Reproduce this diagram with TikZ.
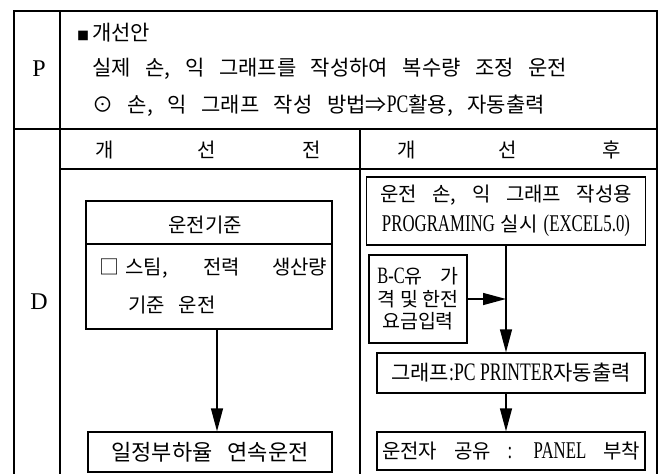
\documentclass[tikz,border=0pt]{standalone}
\usepackage{fontspec}
\setmainfont{Noto Sans CJK KR}[WordSpace=3.1]
\newfontfamily\lat{Liberation Serif}[FakeStretch=0.7,Scale=1.2]
\newfontfamily\latn{Liberation Serif}[Scale=1.2]
\usetikzlibrary{arrows.meta}
\begin{document}
\begin{tikzpicture}[x=1pt,y=-1pt,
  frame/.style={line width=1.4pt},
  box/.style={draw,line width=1.4pt,inner sep=0pt,align=center,font=\fontsize{20}{30}\selectfont},
  txt/.style={inner sep=0pt,font=\fontsize{20}{24}\selectfont},
  ptxt/.style={inner sep=0pt,font=\fontsize{21}{24}\selectfont},
  arr/.style={line width=1.4pt,-{Triangle[length=23pt,width=12pt]}}]
\useasboundingbox (0,0) rectangle (667,474);
% frame
\draw[frame] (14,478) -- (14,11) -- (657,11) -- (657,478);
\draw[frame] (60,11) -- (60,478);
\draw[frame] (14,129) -- (657,129);
\draw[frame] (60,169) -- (657,169);
\draw[frame] (360,129) -- (360,478);
% P row
\node[txt] (P) at (39,69) {\latn P};
\node[txt] (D) at (39,302) {\latn D};
\node[ptxt,anchor=west] (t1) at (77,33) {{\fontsize{12}{12}\selectfont ■}\hspace{3pt}개선안};
\node[ptxt,anchor=west] (t2) at (92,69) {실제 손, 익 그래프를 작성하여 복수량 조정 운전};
\node[ptxt,anchor=west] (t3) at (92,106) {⊙ 손, 익 그래프 작성 방법⇒{\lat PC}활용, 자동출력};
% headers
\node[txt] (h1) at (105,150) {개};
\node[txt] (h2) at (207,150) {선};
\node[txt] (h3) at (312,150) {전};
\node[txt] (h4) at (407,150) {개};
\node[txt] (h5) at (508,150) {선};
\node[txt] (h6) at (612,150) {후};
% left column
\node[box,minimum width=246pt,minimum height=128pt] (std) at (209,265) {};
\coordinate (sd) at (0,244);
\draw[frame] (std.west |- sd) -- (std.east |- sd);
\node[txt] (stdT) at (205,225) {운전기준};
\node[txt,anchor=west] (stdA) at (99,268) {\makebox[228pt][s]{□\hspace{6pt}스팀, 전력 생산량}};
\node[txt,anchor=west] (stdB) at (128,305) {기준 운전};
\node[box,minimum width=244pt,minimum height=40pt,font=\fontsize{22}{26}\selectfont] (cont) at (210,452) {일정부하율 연속운전};
\coordinate (ax) at (217,0);
\draw[arr] (std.south -| ax) -- (cont.north -| ax);
% right column
\node[box,minimum width=279pt,minimum height=68pt] (b1) at (506,211) {\makebox[252pt][s]{운전 손, 익 그래프 작성용}\\{\lat PROGRAMING}\hspace{6pt}실시\hspace{6pt}{\lat (EXCEL5.0)}};
\node[box,minimum width=98pt,minimum height=88pt,font=\fontsize{19.5}{22.5}\selectfont] (b2) at (418,299) {{\lat B-C}유\hspace{18pt}가\\격\hspace{5pt}및\hspace{5pt}한전\\요금입력};
\coordinate (j) at (506,299);
\node[box,minimum width=268pt,minimum height=40pt,font=\fontsize{21}{26}\selectfont] (b3) at (511,373) {그래프{\lat :PC PRINTER}자동출력};
\node[box,minimum width=268pt,minimum height=38pt] (b4) at (511,451) {\makebox[258pt][s]{운전자 공유 {\lat :} {\lat PANEL} 부착}};
\draw[arr] (b1.south) -- (b1.south |- b3.north);
\draw[arr] (b2.east) -- (j);
\draw[arr] (b3.south -| j) -- (b4.north -| j);
\end{tikzpicture}
\end{document}
